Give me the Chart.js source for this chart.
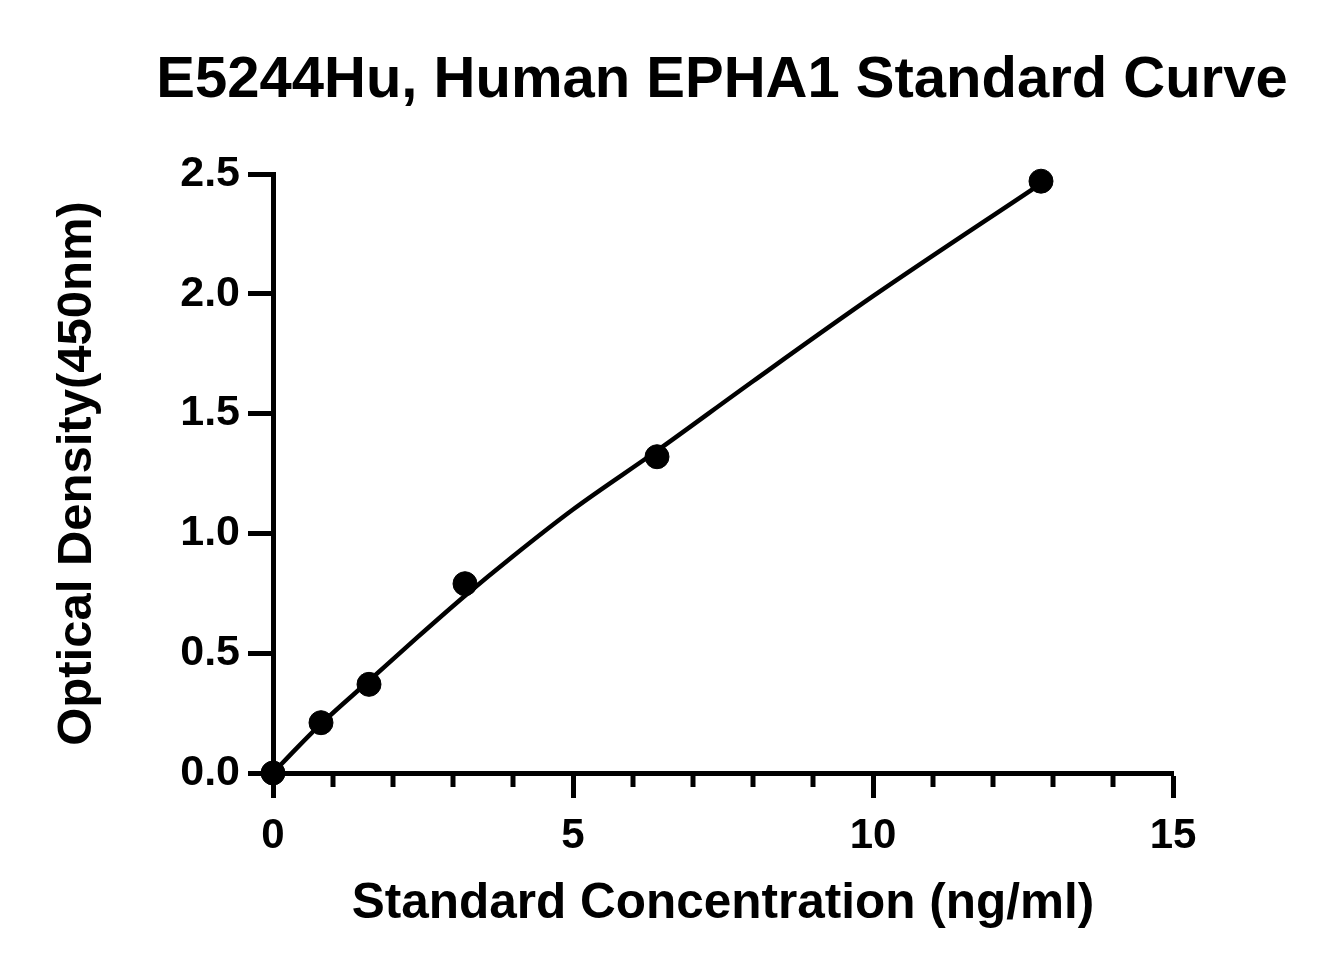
<!DOCTYPE html>
<html>
<head>
<meta charset="utf-8">
<script src="https://cdn.jsdelivr.net/npm/chart.js@4"></script>
<style>
  html, body { margin: 0; padding: 0; background: #fff; }
  #wrap { width: 1329px; height: 975px; }
</style>
</head>
<body>
<div id="wrap"><canvas id="chart" width="1329" height="975"></canvas></div>
<script>
// measured standards
const conc = [0, 0.8, 1.6, 3.2, 6.4, 12.8];
const od = [0.0, 0.21, 0.37, 0.79, 1.32, 2.47];

// fitted curve
const curveX = [0, 0.4, 0.8, 1.6, 2.4, 3.2, 4, 5, 6.4, 8, 10, 12.8];
const curveY = [0, 0.105, 0.205, 0.385, 0.565, 0.74, 0.905, 1.1, 1.345, 1.635, 1.99, 2.46];

const xTicks = [0, 5, 10, 15];
const yTicks = [0, 0.5, 1.0, 1.5, 2.0, 2.5];
const chartTitle = 'E5244Hu, Human EPHA1 Standard Curve';

const FONT = 'Arial, "Liberation Sans", sans-serif';

// title sits off-centre in the original, so draw it here
const titlePlugin = {
  id: 'bigTitle',
  afterDraw(chart) {
    const ctx = chart.ctx;
    ctx.save();
    ctx.fillStyle = '#000';
    ctx.font = 'bold 58px ' + FONT;
    ctx.textAlign = 'center';
    ctx.textBaseline = 'alphabetic';
    ctx.fillText(chartTitle, 722, 97);
    ctx.restore();
  }
};

// short minor ticks on the x axis
const minorTicks = {
  id: 'minorTicks',
  afterDraw(chart) {
    const ctx = chart.ctx;
    const xs = chart.scales.x;
    const y0 = chart.chartArea.bottom;
    ctx.save();
    ctx.strokeStyle = '#000';
    ctx.lineWidth = 5;
    for (let v = 1; v < 15; v++) {
      if (v % 5 === 0) continue;
      const px = xs.getPixelForValue(v);
      ctx.beginPath();
      ctx.moveTo(px, y0);
      ctx.lineTo(px, y0 + 14);
      ctx.stroke();
    }
    ctx.restore();
  }
};

const canvas = document.getElementById('chart');
new Chart(canvas, {
  type: 'scatter',
  data: {
    datasets: [
      {
        label: 'curve',
        type: 'line',
        data: curveX.map((x, i) => ({ x: x, y: curveY[i] })),
        borderColor: '#000',
        borderWidth: 4.5,
        pointRadius: 0,
        cubicInterpolationMode: 'monotone',
        fill: false,
        clip: false,
      },
      {
        label: 'standards',
        data: conc.map((x, i) => ({ x: x, y: od[i] })),
        backgroundColor: '#000',
        borderColor: '#000',
        pointRadius: 12,
        pointHoverRadius: 12,
        clip: false,
      },
    ],
  },
  options: {
    responsive: false,
    animation: false,
    layout: { padding: { left: 0, right: 156, top: 174, bottom: 41 } },
    plugins: {
      legend: { display: false },
      tooltip: { enabled: false },
      title: { display: false },
    },
    scales: {
      x: {
        type: 'linear',
        min: 0,
        max: 15,
        afterFit: (s) => { s.height = 161; },
        afterBuildTicks: (s) => { s.ticks = xTicks.map((v) => ({ value: v })); },
        border: { display: true, color: '#000', width: 5 },
        grid: { drawOnChartArea: false, color: '#000', tickLength: 25, tickWidth: 5, tickColor: '#000' },
        ticks: {
          color: '#000',
          padding: 13,
          maxRotation: 0,
          font: { family: FONT, size: 42, weight: 'bold' },
        },
        title: {
          display: true,
          text: 'Standard Concentration (ng/ml)',
          color: '#000',
          font: { family: FONT, size: 49.5, weight: 'bold' },
          padding: { top: 0, bottom: 0 },
        },
      },
      y: {
        type: 'linear',
        min: 0,
        max: 2.5,
        afterFit: (s) => { s.width = 273; },
        afterBuildTicks: (s) => { s.ticks = yTicks.map((v) => ({ value: v })); },
        border: { display: true, color: '#000', width: 5 },
        grid: { drawOnChartArea: false, color: '#000', tickLength: 25, tickWidth: 5, tickColor: '#000' },
        ticks: {
          color: '#000',
          padding: 8,
          callback: (v) => Number(v).toFixed(1),
          font: { family: FONT, size: 43, weight: 'bold' },
        },
        title: {
          display: true,
          text: 'Optical Density(450nm)',
          color: '#000',
          font: { family: FONT, size: 49, weight: 'bold' },
          padding: { top: 48, bottom: 0 },
        },
      },
    },
  },
  plugins: [minorTicks, titlePlugin],
});
</script>
</body>
</html>
